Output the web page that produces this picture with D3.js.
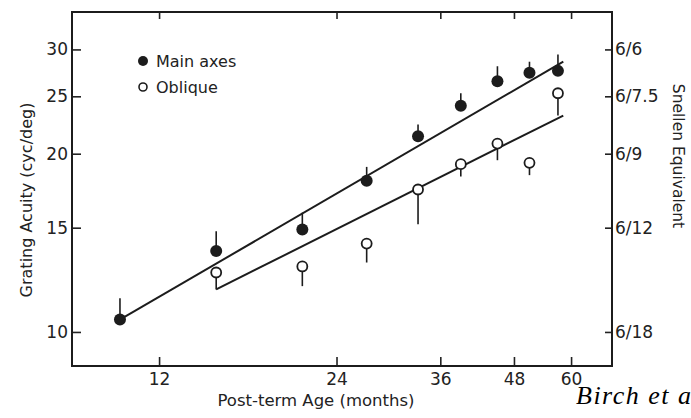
<!DOCTYPE html>
<html>
<head>
<meta charset="utf-8">
<script src="https://cdn.jsdelivr.net/npm/d3@7"></script>
<style>
  body { margin: 0; background: #fff; }
  svg { display: block; }
  .axis text { font-family: "DejaVu Sans", "Liberation Sans", sans-serif; font-size: 17px; fill: #222; }
  .axis line { stroke: #222; stroke-width: 1.6; }
  .lbl { font-family: "DejaVu Sans", "Liberation Sans", sans-serif; fill: #222; }
</style>
</head>
<body>
<div id="chart"></div>
<script>
// Ages (months post-term) and acuities (cyc/deg)
const mainAge = [10.3, 15, 21, 27, 33, 39, 45, 51, 57];
const mainAcuity = [10.5, 13.7, 14.9, 18.0, 21.4, 24.1, 26.5, 27.4, 27.6];
const mainErrTop = [11.4, 14.8, 15.9, 19.0, 22.4, 25.3, 28.1, 28.6, 29.4];

const obliqueAge = [15, 21, 27, 33, 39, 45, 51, 57];
const obliqueAcuity = [12.6, 12.9, 14.1, 17.4, 19.2, 20.8, 19.3, 25.3];
const obliqueErrBottom = [11.8, 11.95, 13.1, 15.2, 18.3, 19.5, 18.4, 23.2];

// regression lines (end points)
const mainFitAge = [10.4, 58.2];
const mainFit = [10.55, 28.6];
const obliqueFitAge = [15, 58.2];
const obliqueFit = [11.8, 23.2];

const ageTicks = [12, 24, 36, 48, 60];
const acuityTicks = [10, 15, 20, 25, 30];
const snellenAcuity = [30, 25, 20, 15, 10];
const snellenLabels = ["6/6", "6/7.5", "6/9", "6/12", "6/18"];

const width = 691, height = 418;
const frame = { left: 72, right: 612, top: 12, bottom: 366 };
const ink = "#1c1c1c";

const svg = d3.select("#chart").append("svg")
    .attr("width", width)
    .attr("height", height);

const x = d3.scaleLog().domain([8.54, 70.4]).range([frame.left, frame.right]);
const y = d3.scaleLog().domain([8.76, 34.7]).range([frame.bottom, frame.top]);

// axes (ticks point inward)
svg.append("g").attr("class", "axis")
    .attr("transform", `translate(0,${frame.bottom})`)
    .call(d3.axisBottom(x).tickValues(ageTicks).tickFormat(d3.format("d"))
        .tickSize(-9).tickPadding(7))
    .call(g => g.select(".domain").remove());

svg.append("g").attr("class", "axis")
    .attr("transform", `translate(0,${frame.top})`)
    .call(d3.axisTop(x).tickValues(ageTicks).tickFormat("").tickSize(-7))
    .call(g => g.select(".domain").remove());

svg.append("g").attr("class", "axis")
    .attr("transform", `translate(${frame.left},0)`)
    .call(d3.axisLeft(y).tickValues(acuityTicks).tickFormat(d3.format("d"))
        .tickSize(-9).tickPadding(4))
    .call(g => g.select(".domain").remove());

svg.append("g").attr("class", "axis")
    .attr("transform", `translate(${frame.right},0)`)
    .call(d3.axisRight(y).tickValues(snellenAcuity).tickFormat((d, i) => snellenLabels[i])
        .tickSize(-7).tickPadding(3))
    .call(g => g.select(".domain").remove());

// frame
svg.append("rect")
    .attr("x", frame.left).attr("y", frame.top)
    .attr("width", frame.right - frame.left).attr("height", frame.bottom - frame.top)
    .attr("fill", "none").attr("stroke", ink).attr("stroke-width", 2);

// fit lines
const line = d3.line().x(d => x(d[0])).y(d => y(d[1]));
svg.append("path")
    .attr("d", line(d3.zip(mainFitAge, mainFit)))
    .attr("fill", "none").attr("stroke", ink).attr("stroke-width", 2);
svg.append("path")
    .attr("d", line(d3.zip(obliqueFitAge, obliqueFit)))
    .attr("fill", "none").attr("stroke", ink).attr("stroke-width", 2);

// error bars
svg.selectAll(".err-main")
    .data(mainAge)
    .enter().append("line")
    .attr("x1", d => x(d)).attr("x2", d => x(d))
    .attr("y1", (d, i) => y(mainAcuity[i])).attr("y2", (d, i) => y(mainErrTop[i]))
    .attr("stroke", ink).attr("stroke-width", 1.6);

svg.selectAll(".err-obl")
    .data(obliqueAge)
    .enter().append("line")
    .attr("x1", d => x(d)).attr("x2", d => x(d))
    .attr("y1", (d, i) => y(obliqueAcuity[i])).attr("y2", (d, i) => y(obliqueErrBottom[i]))
    .attr("stroke", ink).attr("stroke-width", 1.6);

// points
svg.selectAll(".pt-main")
    .data(mainAge)
    .enter().append("circle")
    .attr("cx", d => x(d)).attr("cy", (d, i) => y(mainAcuity[i]))
    .attr("r", 6).attr("fill", ink);

svg.selectAll(".pt-obl")
    .data(obliqueAge)
    .enter().append("circle")
    .attr("cx", d => x(d)).attr("cy", (d, i) => y(obliqueAcuity[i]))
    .attr("r", 5).attr("fill", "#fff").attr("stroke", ink).attr("stroke-width", 1.8);

// legend
svg.append("circle").attr("cx", 143).attr("cy", 61).attr("r", 5).attr("fill", ink);
svg.append("circle").attr("cx", 143).attr("cy", 87).attr("r", 4)
    .attr("fill", "#fff").attr("stroke", ink).attr("stroke-width", 1.6);
svg.append("text").attr("class", "lbl").attr("x", 156).attr("y", 67)
    .attr("font-size", 16).text("Main axes");
svg.append("text").attr("class", "lbl").attr("x", 156).attr("y", 93)
    .attr("font-size", 16).text("Oblique");

// axis titles
svg.append("text").attr("class", "lbl")
    .attr("transform", "translate(32,200) rotate(-90)")
    .attr("text-anchor", "middle").attr("font-size", 16)
    .text("Grating Acuity (cyc/deg)");

svg.append("text").attr("class", "lbl")
    .attr("transform", "translate(673,156) rotate(90)")
    .attr("text-anchor", "middle").attr("font-size", 15.5)
    .text("Snellen Equivalent");

svg.append("text").attr("class", "lbl")
    .attr("x", 316).attr("y", 406)
    .attr("text-anchor", "middle").attr("font-size", 16.5)
    .text("Post-term Age (months)");

svg.append("text")
    .attr("x", 576).attr("y", 404)
    .attr("font-family", "'Liberation Serif', 'Times New Roman', serif")
    .attr("font-style", "italic").attr("font-size", 26).attr("letter-spacing", 1.5)
    .attr("fill", "#000")
    .text("Birch et al.");
</script>
</body>
</html>
